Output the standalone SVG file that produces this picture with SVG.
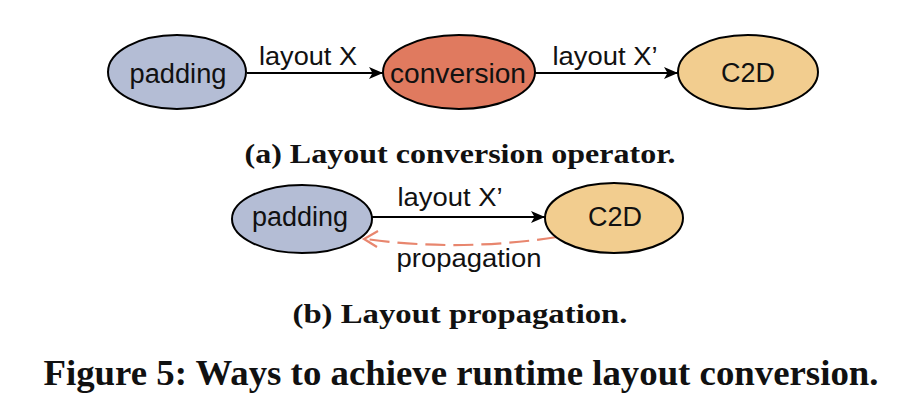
<svg xmlns="http://www.w3.org/2000/svg" width="920" height="410" viewBox="0 0 920 410">
<style>
.node ellipse{stroke:#000;stroke-width:2}
.pad{fill:#b4bdd5}
.conv{fill:#e07a5f}
.c2d{fill:#f2cd8f}
.nt{font-family:"Liberation Sans",Arial,sans-serif;font-size:27px;fill:#111;text-anchor:middle}
.el{font-family:"Liberation Sans",Arial,sans-serif;font-size:26px;fill:#111;text-anchor:middle}
.cap{font-family:"Liberation Serif","Times New Roman",serif;font-weight:bold;fill:#111;text-anchor:middle}
.edge{fill:none;stroke:#000;stroke-width:2}
.prop{fill:none;stroke:#e8866e;stroke-width:2.2;stroke-dasharray:20 8}
</style>
<defs>
<marker id="ah" viewBox="0 0 14 12" refX="14" refY="6" markerWidth="14" markerHeight="12" markerUnits="userSpaceOnUse" orient="auto">
<path d="M0,0 L14,6 L0,12 L3.5,6 Z" fill="#000"/>
</marker>
</defs>
<rect width="920" height="410" fill="#fff"/>
<g id="connectors">
<line class="edge" x1="247" y1="73" x2="383" y2="73" marker-end="url(#ah)"/>
<line class="edge" x1="535" y1="73" x2="678" y2="73" marker-end="url(#ah)"/>
<line class="edge" x1="372" y1="217" x2="545" y2="217" marker-end="url(#ah)"/>
<path class="prop" d="M557,237 Q460,252 366,239"/>
<path d="M378,231 L364,239 L377,247" fill="none" stroke="#e8866e" stroke-width="2.2"/>
<text class="el" x="308" y="65" textLength="98" lengthAdjust="spacingAndGlyphs">layout X</text>
<text class="el" x="605" y="65" textLength="105" lengthAdjust="spacingAndGlyphs">layout X’</text>
<text class="el" x="450" y="206" textLength="105" lengthAdjust="spacingAndGlyphs">layout X’</text>
<text class="el" x="469" y="267" textLength="145" lengthAdjust="spacingAndGlyphs">propagation</text>
</g>
<g id="node-padding-a" class="node">
<ellipse class="pad" cx="177" cy="72" rx="69" ry="37"/>
<text class="nt" x="178" y="83" textLength="97" lengthAdjust="spacingAndGlyphs">padding</text>
</g>
<g id="node-conversion" class="node">
<ellipse class="conv" cx="459" cy="72" rx="76" ry="37"/>
<text class="nt" x="458" y="83" textLength="136" lengthAdjust="spacingAndGlyphs">conversion</text>
</g>
<g id="node-c2d-a" class="node">
<ellipse class="c2d" cx="748" cy="72" rx="70" ry="37"/>
<text class="nt" x="748" y="82" textLength="54" lengthAdjust="spacingAndGlyphs">C2D</text>
</g>
<g id="node-padding-b" class="node">
<ellipse class="pad" cx="302" cy="219" rx="70" ry="34"/>
<text class="nt" x="300" y="226" textLength="96" lengthAdjust="spacingAndGlyphs">padding</text>
</g>
<g id="node-c2d-b" class="node">
<ellipse class="c2d" cx="614" cy="218" rx="69" ry="35"/>
<text class="nt" x="615" y="226" textLength="54" lengthAdjust="spacingAndGlyphs">C2D</text>
</g>
<text class="cap" x="460" y="163" font-size="28" textLength="431" lengthAdjust="spacingAndGlyphs">(a) Layout conversion operator.</text>
<text class="cap" x="460" y="323" font-size="28" textLength="335" lengthAdjust="spacingAndGlyphs">(b) Layout propagation.</text>
<text class="cap" x="461" y="385" font-size="35" textLength="835" lengthAdjust="spacingAndGlyphs">Figure 5: Ways to achieve runtime layout conversion.</text>
</svg>
